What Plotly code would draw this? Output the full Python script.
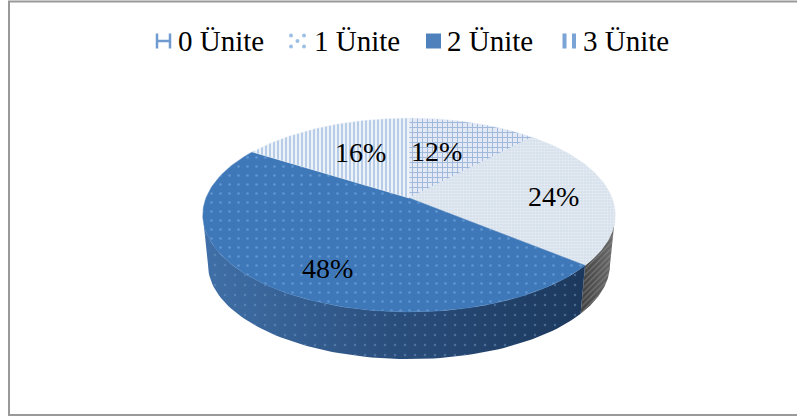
import numpy as np
import plotly.graph_objects as go

# chart values
categories = ["0 Ünite", "1 Ünite", "2 Ünite", "3 Ünite"]
percents = [12, 24, 48, 16]
percent_labels = ["12%", "24%", "48%", "16%"]

# styling per slice
base_colors = ["#e3eaf5", "#d6e0ec", "#3f78b8", "#eef3f9"]
pattern_fg = ["#5f88bf", "#f7f9fb", "#7fb2ea", "#7fa6d4"]
pattern_shape = ["+", ".", ".", "|"]
pattern_size = [5, 3, 9, 4]
pattern_solidity = [0.36, 0.4, 0.07, 0.5]
side_gradients = [
    None,
    [[0, "#3f3f3f"], [1, "#6e6e6e"]],
    [[0, "#4070a8"], [0.5, "#2a4e7c"], [1, "#1c385c"]],
    None,
]

# perspective of the tilted pie, in pixels of the 797x418 page
apex_x, apex_y = 409, 198
scale_x, scale_y, persp = 203, 94, 0.175
depth = 50
shrink = 0.975

# legend layout
legend_x = [156, 290, 426, 562]
legend_text_x = [176, 312, 445, 581]
legend_y = 41
swatch = 15


def rim(theta, k=1.0):
    den = 1 + persp * np.cos(theta)
    return apex_x + k * scale_x * np.sin(theta) / den, apex_y - k * scale_y * np.cos(theta) / den


fig = go.Figure()
edges = np.cumsum([0] + percents) / 100 * 2 * np.pi

# widest points of the rim, the wall is only visible between them
right_limit = np.arccos(-persp)
left_limit = 2 * np.pi - right_limit

# side wall first, the top face is painted over what sticks out behind it
for i in range(len(percents)):
    start, end = max(edges[i], right_limit), min(edges[i + 1], left_limit)
    if end <= start:
        continue
    t = np.linspace(start, end, 80)
    x, y = rim(t)
    bx, by = rim(t, shrink)
    wall_x = np.r_[x, bx[::-1], x[0]]
    wall_y = np.r_[y, by[::-1] + depth, y[0]]
    fig.add_trace(go.Scatter(
        x=wall_x, y=wall_y, mode="lines", line=dict(width=0), fill="toself",
        fillgradient=dict(type="horizontal", colorscale=side_gradients[i]),
        showlegend=False, hoverinfo="skip"))
    if i == 1:
        pat = dict(shape="/", fgcolor="#a8a8a8", bgcolor="rgba(0,0,0,0)", size=4, solidity=0.25)
    else:
        pat = dict(shape=".", fgcolor="#6f97c4", bgcolor="rgba(0,0,0,0)", size=10, solidity=0.05)
    fig.add_trace(go.Scatter(
        x=wall_x, y=wall_y, mode="lines", line=dict(width=0), fill="toself",
        fillcolor="rgba(0,0,0,0)", fillpattern=pat,
        showlegend=False, hoverinfo="skip"))

# top face
for i, name in enumerate(categories):
    t = np.linspace(edges[i], edges[i + 1], 120)
    x, y = rim(t)
    fig.add_trace(go.Scatter(
        x=np.r_[apex_x, x, apex_x], y=np.r_[apex_y, y, apex_y],
        mode="lines", line=dict(width=0.5, color=base_colors[i]), fill="toself",
        fillcolor=base_colors[i],
        fillpattern=dict(shape=pattern_shape[i], fgcolor=pattern_fg[i], bgcolor=base_colors[i],
                         size=pattern_size[i], solidity=pattern_solidity[i]),
        name=name, showlegend=False, hoverinfo="skip"))

# hand made legend, plotly's own swatches are too wide and patterns don't line up at this size
left, mid, top = legend_x[0], legend_y, legend_y - swatch / 2
fig.add_trace(go.Scatter(
    x=[left + 1, left + 1, None, left + swatch - 1, left + swatch - 1, None, left, left + swatch],
    y=[top, top + swatch, None, top, top + swatch, None, mid, mid],
    mode="lines", line=dict(color="#6f9bd0", width=2.5), showlegend=False, hoverinfo="skip"))

left = legend_x[1]
fig.add_trace(go.Scatter(
    x=[left + 1, left + swatch - 1, left + swatch / 2, left + 1, left + swatch - 1],
    y=[top + 2, top + 2, mid, top + swatch - 2, top + swatch - 2],
    mode="markers", marker=dict(color="#9cc0e4", size=4), showlegend=False, hoverinfo="skip"))

left = legend_x[2]
fig.add_trace(go.Scatter(
    x=[left, left + swatch, left + swatch, left, left],
    y=[top, top, top + swatch, top + swatch, top],
    mode="lines", line=dict(width=0), fill="toself", fillcolor="#4f81bd",
    showlegend=False, hoverinfo="skip"))

left = legend_x[3]
fig.add_trace(go.Scatter(
    x=[left + 2.5, left + 2.5, None, left + 12, left + 12],
    y=[top, top + swatch, None, top, top + swatch],
    mode="lines", line=dict(color="#7aa3d6", width=4), showlegend=False, hoverinfo="skip"))

for i, name in enumerate(categories):
    fig.add_annotation(x=legend_text_x[i], y=legend_y, text=name, showarrow=False, xanchor="left",
                       font=dict(family="Liberation Serif", size=29, color="#000000"))

label_pos = [(436, 151), (553, 196), (327, 268), (360, 152)]
for text, (lx, ly) in zip(percent_labels, label_pos):
    fig.add_annotation(x=lx, y=ly, text=text, showarrow=False,
                       font=dict(family="Liberation Serif", size=28, color="#000000"))

fig.update_layout(
    width=797, height=418,
    margin=dict(l=0, r=0, t=0, b=0),
    paper_bgcolor="white", plot_bgcolor="white",
    showlegend=False,
    xaxis=dict(range=[0, 797], visible=False, fixedrange=True),
    yaxis=dict(range=[418, 0], visible=False, fixedrange=True),
    shapes=[dict(type="rect", xref="x", yref="y", x0=9, y0=1.5, x1=800, y1=415,
                 line=dict(color="#999999", width=2), fillcolor="rgba(0,0,0,0)")],
)

# the page's default body margin would push everything 8px in
fig.write_html("out.html", config=dict(displayModeBar=False),
               post_script="document.body.style.margin='0';")
